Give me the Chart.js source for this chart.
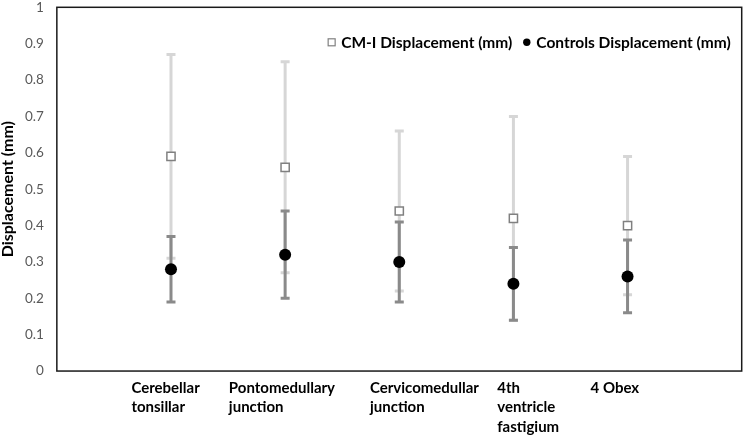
<!DOCTYPE html>
<html><head><meta charset="utf-8">
<script src="https://cdn.jsdelivr.net/npm/chart.js@4"></script>
<style>html,body{margin:0;padding:0;background:#fff}#wrap{width:749px;height:436px;position:relative}</style>
</head><body><div id="wrap"><canvas id="c"></canvas></div>
<script>
// ---- data ----
const categories = [['Cerebellar','tonsillar'],['Pontomedullary','junction'],['Cervicomedullar','junction'],['4th','ventricle','fastigium'],['4 Obex']];
const xPositions = [1, 2, 3, 4, 5];
const cmiMean = [0.59, 0.56, 0.44, 0.42, 0.40];
const cmiErr  = [0.28, 0.29, 0.22, 0.28, 0.19];
const ctrlMean = [0.28, 0.32, 0.30, 0.24, 0.26];
const ctrlErr  = [0.09, 0.12, 0.11, 0.10, 0.10];
const yTicks = [0, 0.1, 0.2, 0.3, 0.4, 0.5, 0.6, 0.7, 0.8, 0.9, 1];
const seriesNames = ['CM-I Displacement (mm)', 'Controls Displacement (mm)'];

// label anchor positions along x (layout of the text boxes, in axis units)
const labelAnchors = [0.653, 1.507, 2.743, 3.858, 4.676];

const FONT = 'Lato, "Open Sans", sans-serif';

const errorBarPlugin = {
  id: 'errorBars',
  beforeDatasetsDraw(chart) {
    const ctx = chart.ctx, ys = chart.scales.y;
    chart.data.datasets.forEach((ds, i) => {
      const meta = chart.getDatasetMeta(i);
      ctx.save();
      ctx.strokeStyle = ds.errorColor;
      ctx.lineWidth = 3;
      ctx.lineCap = 'butt';
      meta.data.forEach((el, j) => {
        const v = ds.data[j].y, e = ds.errors[j];
        const x = el.x;
        const yHi = ys.getPixelForValue(v + e), yLo = ys.getPixelForValue(v - e);
        ctx.beginPath();
        ctx.moveTo(x, yHi); ctx.lineTo(x, yLo);
        ctx.moveTo(x - 4.5, yHi); ctx.lineTo(x + 4.5, yHi);
        ctx.moveTo(x - 4.5, yLo); ctx.lineTo(x + 4.5, yLo);
        ctx.stroke();
      });
      ctx.restore();
    });
  }
};

const framePlugin = {
  id: 'frame',
  afterDraw(chart) {
    const {ctx, chartArea: a} = chart;
    ctx.save();
    ctx.strokeStyle = '#1a1a1a';
    ctx.lineWidth = 1.5;
    ctx.strokeRect(a.left, a.top, a.right - a.left, a.bottom - a.top);
    ctx.restore();
  }
};

// legend drawn inside the plot area, top-right, in one row
const insideLegend = {
  id: 'insideLegend',
  afterDraw(chart) {
    const {ctx, chartArea: a} = chart;
    ctx.save();
    ctx.font = 'bold 15.5px ' + FONT;
    ctx.textBaseline = 'middle';
    ctx.textAlign = 'left';
    const mW = 7, gap = 6, itemGap = 11, rightPad = 11;
    const items = chart.data.datasets.map(ds => ({ds, w: ctx.measureText(ds.label).width}));
    const total = items.reduce((s, it) => s + mW + gap + it.w, 0) + itemGap * (items.length - 1);
    let x = a.right - rightPad - total;
    const y = a.top + 35;
    items.forEach(({ds, w}) => {
      const cx = x + mW / 2;
      if (ds.pointStyle === 'rect') {
        ctx.fillStyle = ds.backgroundColor;
        ctx.strokeStyle = ds.borderColor;
        ctx.lineWidth = 1.2;
        ctx.fillRect(cx - 3.5, y - 3.5, 7, 7);
        ctx.strokeRect(cx - 3.5, y - 3.5, 7, 7);
      } else {
        ctx.fillStyle = ds.backgroundColor;
        ctx.beginPath(); ctx.arc(cx, y, 3.7, 0, Math.PI * 2); ctx.fill();
      }
      ctx.fillStyle = '#000';
      ctx.fillText(ds.label, x + mW + gap, y + 1);
      x += mW + gap + w + itemGap;
    });
    ctx.restore();
  }
};

new Chart(document.getElementById('c'), {
  type: 'scatter',
  data: {
    datasets: [
      {
        label: seriesNames[0],
        data: xPositions.map((x, i) => ({x, y: cmiMean[i]})),
        errors: cmiErr,
        errorColor: '#d6d6d6',
        pointStyle: 'rect',
        pointRadius: 5.8,
        pointBorderWidth: 1.5,
        borderWidth: 1.5,
        borderColor: '#808080',
        backgroundColor: '#ffffff'
      },
      {
        label: seriesNames[1],
        data: xPositions.map((x, i) => ({x, y: ctrlMean[i]})),
        errors: ctrlErr,
        errorColor: '#8a8a8a',
        pointStyle: 'circle',
        pointRadius: 6,
        pointBorderWidth: 0,
        borderWidth: 0,
        borderColor: '#000000',
        backgroundColor: '#000000'
      }
    ]
  },
  options: {
    responsive: true,
    maintainAspectRatio: false,
    animation: false,
    layout: {padding: {left: 0, right: 2, top: 0, bottom: -2}},
    plugins: {
      tooltip: {enabled: false},
      legend: {display: false}
    },
    scales: {
      x: {
        type: 'linear', min: 0, max: 6,
        afterBuildTicks: ax => { ax.ticks = labelAnchors.map(v => ({value: v})); },
        ticks: {
          align: 'start', autoSkip: false, maxRotation: 0, minRotation: 0,
          padding: 1, color: '#000',
          font: {family: FONT, size: 15, weight: 'bold', lineHeight: 1.31},
          callback: (v, i) => categories[i]
        },
        grid: {display: true, drawOnChartArea: false, drawTicks: true, tickLength: 6, tickColor: 'rgba(0,0,0,0)'},
        border: {display: false}
      },
      y: {
        min: 0, max: 1,
        afterBuildTicks: ax => { ax.ticks = yTicks.map(v => ({value: v})); },
        ticks: {padding: 0, color: '#595959', font: {family: FONT, size: 13.5, lineHeight: 0.75},
          callback: v => String(v)},
        grid: {display: true, drawOnChartArea: false, drawTicks: true, tickLength: 13, tickColor: 'rgba(0,0,0,0)'},
        border: {display: false},
        title: {display: true, text: 'Displacement (mm)', color: '#000',
          font: {family: FONT, size: 16, weight: 'bold', lineHeight: 1.0}, padding: {top: 0, bottom: 9}}
      }
    }
  },
  plugins: [errorBarPlugin, framePlugin, insideLegend]
});
</script>
</body></html>
